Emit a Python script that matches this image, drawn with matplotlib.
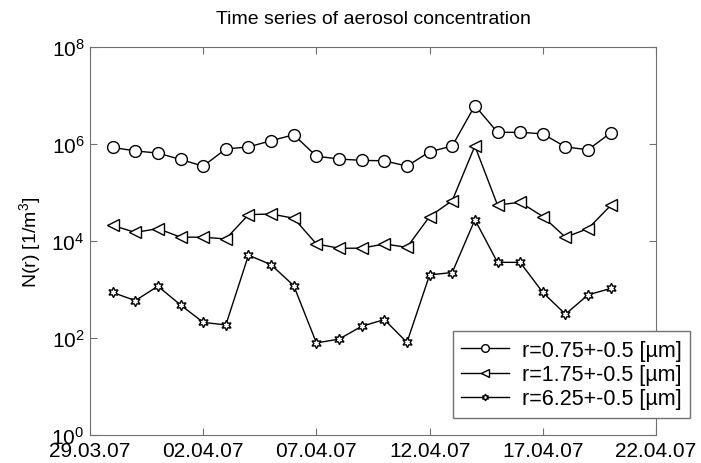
import numpy as np
import matplotlib
matplotlib.use('Agg')
import matplotlib.pyplot as plt

plt.rcParams['font.family'] = ['Liberation Sans', 'DejaVu Sans']
plt.rcParams['mathtext.fontset'] = 'custom'
plt.rcParams['mathtext.rm'] = 'Liberation Sans'
plt.rcParams['mathtext.it'] = 'Liberation Sans:italic'

# data (days after 28.03.07)
days = list(range(1, 24))
n_075 = [8.5e5, 7.2e5, 6.5e5, 4.8e5, 3.5e5, 7.9e5, 8.7e5, 1.17e6, 1.55e6, 5.6e5, 4.9e5, 4.6e5,
         4.5e5, 3.5e5, 6.9e5, 9.1e5, 6.2e6, 1.74e6, 1.74e6, 1.62e6, 8.7e5, 7.6e5, 1.7e6]
n_175 = [2.1e4, 1.5e4, 1.8e4, 1.2e4, 1.2e4, 1.1e4, 3.5e4, 3.6e4, 2.95e4, 8.7e3, 7.1e3, 7.1e3,
         8.7e3, 7.4e3, 3.2e4, 6.8e4, 9.1e5, 5.5e4, 6.3e4, 3.2e4, 1.2e4, 1.8e4, 5.4e4]
n_625 = [870, 590, 1170, 480, 210, 186, 5100, 3240, 1200, 79, 95, 174,
         240, 81, 2000, 2240, 27500, 3630, 3630, 870, 309, 776, 1050]
labels = ['r=0.75+-0.5 [µm]', 'r=1.75+-0.5 [µm]', 'r=6.25+-0.5 [µm]']
xtick_pos = [0, 5, 10, 15, 20, 25]
xtick_lab = ['29.03.07', '02.04.07', '07.04.07', '12.04.07', '17.04.07', '22.04.07']

fig = plt.figure(figsize=(7.01, 4.64), dpi=100)
ax = fig.add_axes([90/701, 28/464, 566/701, 388/464])

ax.plot(days, n_075, '-o', color='black', lw=1, ms=8.5, mfc='white', mec='black', mew=1, label=labels[0])
ax.plot(days, n_175, '-<', color='black', lw=1, ms=8.5, mfc='white', mec='black', mew=1, label=labels[1])
ax.plot(days, n_625, '-', marker=(6, 1, 0), color='black', lw=1, ms=7.5, mfc='white', mec='black', mew=1, label=labels[2])

ax.set_yscale('log')
ax.set_ylim(1, 1e8)
ax.set_xlim(0, 25)
ax.set_yticks([1, 1e2, 1e4, 1e6, 1e8])
ax.set_yticklabels(['$10^{0}$', '$10^{2}$', '$10^{4}$', '$10^{6}$', '$10^{8}$'])
ax.yaxis.set_minor_locator(matplotlib.ticker.NullLocator())
ax.set_xticks(xtick_pos)
ax.set_xticklabels(xtick_lab)

gray = '#707070'
for s in ax.spines.values():
    s.set_color(gray)
ax.tick_params(direction='in', length=5, color=gray, top=True, right=True, labelsize=15, pad=4)

ax.set_ylabel('N(r) [1/m$^{3}$]', fontsize=14, labelpad=6)
ax.set_title('Time series of aerosol concentration', fontsize=14, pad=17)

leg = ax.legend(loc='lower right', bbox_to_anchor=(690/701, 45/464), bbox_transform=fig.transFigure,
                fontsize=15.5, fancybox=False, framealpha=1, edgecolor=gray, borderaxespad=0,
                handlelength=2.2, handletextpad=0.6, labelspacing=0.15, borderpad=0.4,
                markerscale=0.65)
leg.get_frame().set_linewidth(1)

fig.savefig('out.png', dpi=100)
